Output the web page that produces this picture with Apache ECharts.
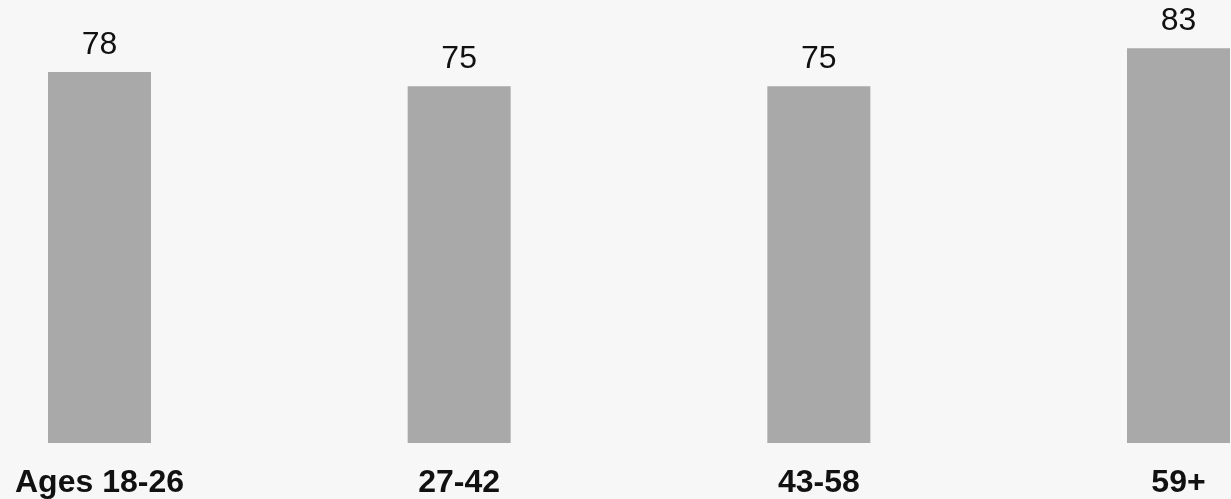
<!DOCTYPE html>
<html>
<head>
<meta charset="utf-8">
<script src="https://cdn.jsdelivr.net/npm/echarts@6/dist/echarts.min.js"></script>
<style>
  html, body { margin: 0; padding: 0; background: #f7f7f7; }
  #chart { width: 1231px; height: 499px; }
</style>
</head>
<body>
<div id="chart"></div>
<script>
// Age groups and their scores
const categories = ['Ages 18-26', '27-42', '43-58', '59+'];
const values = [78, 75, 75, 83];

const chart = echarts.init(document.getElementById('chart'));
chart.setOption({
  backgroundColor: '#f7f7f7',
  animation: false,
  grid: { left: 99.5, right: 52.5, top: 15, bottom: 56 },
  xAxis: {
    type: 'category',
    data: categories,
    boundaryGap: false,
    axisLine: { show: false },
    axisTick: { show: false },
    axisLabel: {
      margin: 24,
      fontFamily: 'Liberation Sans, Arial, sans-serif',
      fontSize: 32,
      fontWeight: 'bold',
      color: '#111'
    }
  },
  yAxis: {
    type: 'value',
    min: 0,
    max: 90,
    show: false,
    splitLine: { show: false }
  },
  series: [{
    type: 'bar',
    data: values,
    barWidth: 103,
    clip: false,
    itemStyle: { color: '#a9a9a9' },
    label: {
      show: true,
      position: 'top',
      distance: 11,
      fontFamily: 'Liberation Sans, Arial, sans-serif',
      fontSize: 32,
      color: '#111'
    }
  }]
});
</script>
</body>
</html>
